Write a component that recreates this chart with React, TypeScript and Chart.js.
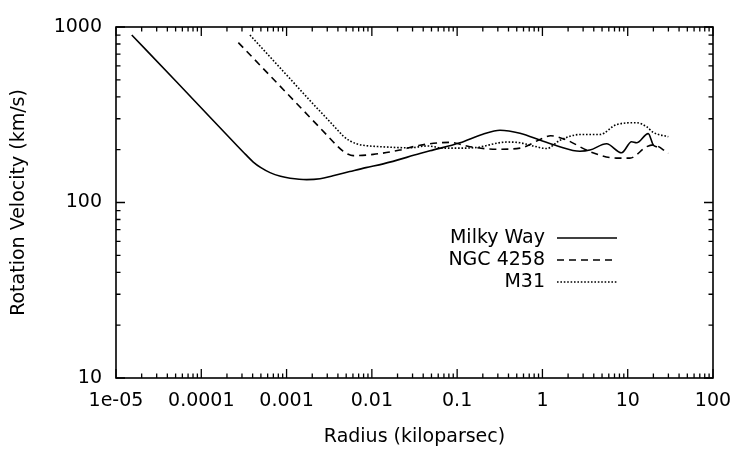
import { useEffect, useRef } from 'react';
import { Chart, registerables } from 'chart.js';

Chart.register(...registerables);

const seriesNames = ['Milky Way', 'NGC 4258', 'M31'];

const milkyWayR = [1.53e-5, 5.15e-5, 1.26e-4, 2.6e-4, 3.3e-4, 4.07e-4, 5.0e-4, 6.4e-4, 8.5e-4, 1.1e-3, 1.72e-3, 2.47e-3, 3.5e-3, 5.5e-3, 8.5e-3, 0.0136, 0.0366, 0.048, 0.108, 0.2, 0.318, 0.545, 1.0, 1.5, 2.75, 3.6, 5.65, 8.47, 11.1, 12.7, 17.4, 19.9, 22];
const milkyWayV = [900, 486, 307, 212, 188, 170, 158, 148, 141, 137.5, 135, 136.5, 142, 150, 158, 166, 190, 197, 219, 245, 258, 248, 224, 210, 196, 199, 216, 192, 222, 219, 247, 213, 207];

const ngc4258R = [2.72e-4, 2.95e-3, 4.0e-3, 4.6e-3, 5.2e-3, 6.05e-3, 0.0104, 0.0213, 0.0366, 0.082, 0.141, 0.29, 0.545, 1.0, 1.25, 1.92, 3.6, 7.4, 10.6, 16.7, 19.9, 29.9];
const ngc4258V = [815, 243, 208, 196, 189, 185, 188, 199, 212, 220, 208, 201, 204, 232, 240, 227, 195, 179, 179, 208, 213, 191];

const m31R = [3.72e-4, 1.0e-3, 2.0e-3, 3.23e-3, 4.2e-3, 4.62e-3, 5.5e-3, 6.6e-3, 8.5e-3, 0.0124, 0.028, 0.045, 0.07, 0.108, 0.17, 0.38, 0.545, 0.78, 1.12, 1.6, 2.75, 4.72, 7.4, 12.7, 16.7, 19.9, 29.9];
const m31V = [900, 533, 369, 288, 251, 239, 225, 216, 211, 208, 205, 210, 204, 204, 206, 221, 219, 210, 203, 226, 244, 244, 278, 285, 270, 251, 237];

const xTickValues = [1e-5, 1e-4, 1e-3, 1e-2, 1e-1, 1, 10, 100];
const xTickLabels = ['1e-05', '0.0001', '0.001', '0.01', '0.1', '1', '10', '100'];
const yTickValues = [10, 100, 1000];
const yTickLabels = ['10', '100', '1000'];

const FONT = '"DejaVu Sans", sans-serif';
const FONT_SIZE = 19;

const toPoints = (r: number[], v: number[]) => r.map((x, i) => ({ x, y: v[i] }));

const framePlugin = {
  id: 'gnuFrame',
  afterDraw(chart: any) {
    const { ctx, chartArea } = chart;
    const { left, right, top, bottom } = chartArea;
    const xs = chart.scales.x;
    const ys = chart.scales.y;
    ctx.save();
    ctx.strokeStyle = '#000';
    ctx.lineWidth = 1.3;
    const drawAxisTicks = (scale: any, horizontal: boolean) => {
      const lo = Math.floor(Math.log10(scale.min));
      const hi = Math.ceil(Math.log10(scale.max));
      for (let e = lo; e <= hi; e++) {
        for (let m = 1; m <= 9; m++) {
          const v = m * Math.pow(10, e);
          if (v < scale.min * 0.999 || v > scale.max * 1.001) continue;
          const p = scale.getPixelForValue(v);
          const len = m === 1 ? 9 : 4.5;
          ctx.beginPath();
          if (horizontal) {
            ctx.moveTo(p, bottom);
            ctx.lineTo(p, bottom - len);
            ctx.moveTo(p, top);
            ctx.lineTo(p, top + len);
          } else {
            ctx.moveTo(left, p);
            ctx.lineTo(left + len, p);
            ctx.moveTo(right, p);
            ctx.lineTo(right - len, p);
          }
          ctx.stroke();
        }
      }
    };
    drawAxisTicks(xs, true);
    drawAxisTicks(ys, false);
    ctx.lineWidth = 1.6;
    ctx.strokeRect(left, top, right - left, bottom - top);
    ctx.restore();
  },
};

const legendPlugin = {
  id: 'gnuLegend',
  afterDraw(chart: any) {
    const { ctx } = chart;
    ctx.save();
    ctx.font = `${FONT_SIZE}px ${FONT}`;
    ctx.fillStyle = '#000';
    ctx.textAlign = 'right';
    ctx.textBaseline = 'middle';
    chart.data.datasets.forEach((ds: any, i: number) => {
      const y = 238 + i * 22;
      ctx.fillText(ds.label, 545, y);
      ctx.beginPath();
      ctx.strokeStyle = '#000';
      ctx.lineWidth = ds.borderWidth;
      ctx.setLineDash(ds.borderDash || []);
      ctx.moveTo(557, y);
      ctx.lineTo(617, y);
      ctx.stroke();
    });
    ctx.restore();
  },
};

export default function App() {
  const ref = useRef<HTMLCanvasElement | null>(null);
  useEffect(() => {
    if (!ref.current) return;
    const common = {
      borderColor: '#000',
      borderWidth: 1.6,
      pointRadius: 0,
      fill: false,
      cubicInterpolationMode: 'monotone' as const,
    };
    const chart = new Chart(ref.current, {
      type: 'line',
      data: {
        datasets: [
          { ...common, label: seriesNames[0], data: toPoints(milkyWayR, milkyWayV), borderDash: [] },
          { ...common, label: seriesNames[1], data: toPoints(ngc4258R, ngc4258V), borderDash: [7, 5] },
          { ...common, label: seriesNames[2], data: toPoints(m31R, m31V), borderDash: [1.6, 1.8] },
        ],
      },
      options: {
        animation: false,
        responsive: false,
        maintainAspectRatio: false,
        layout: { padding: { top: 27, right: 37, left: 0, bottom: 0 } },
        plugins: {
          legend: { display: false },
          tooltip: { enabled: false },
        },
        scales: {
          x: {
            type: 'logarithmic',
            min: 1e-5,
            max: 100,
            grid: { display: false, drawTicks: false },
            border: { display: false },
            afterBuildTicks: (s: any) => {
              s.ticks = xTickValues.map((value) => ({ value }));
            },
            afterFit: (s: any) => {
              s.height = 72;
            },
            ticks: {
              autoSkip: false,
              maxRotation: 0,
              padding: 12,
              color: '#000',
              font: { family: FONT, size: FONT_SIZE },
              callback: (_v: any, i: number) => xTickLabels[i],
            },
            title: {
              display: true,
              text: 'Radius (kiloparsec)',
              color: '#000',
              font: { family: FONT, size: FONT_SIZE },
              padding: { top: 0, bottom: 2 },
            },
          },
          y: {
            type: 'logarithmic',
            min: 10,
            max: 1000,
            grid: { display: false, drawTicks: false },
            border: { display: false },
            afterBuildTicks: (s: any) => {
              s.ticks = yTickValues.map((value) => ({ value }));
            },
            afterFit: (s: any) => {
              s.width = 116;
            },
            ticks: {
              autoSkip: false,
              padding: 14,
              color: '#000',
              font: { family: FONT, size: FONT_SIZE },
              callback: (_v: any, i: number) => yTickLabels[i],
            },
            title: {
              display: true,
              text: 'Rotation Velocity (km/s)',
              color: '#000',
              font: { family: FONT, size: FONT_SIZE },
              padding: { top: 8, bottom: 0 },
            },
          },
        },
      },
      plugins: [framePlugin, legendPlugin],
    });
    return () => chart.destroy();
  }, []);
  return (
    <div style={{ position: 'fixed', left: 0, top: 0, width: 750, height: 450, background: '#fff' }}>
      <canvas ref={ref} width={750} height={450} style={{ display: 'block', width: 750, height: 450 }} />
    </div>
  );
}
